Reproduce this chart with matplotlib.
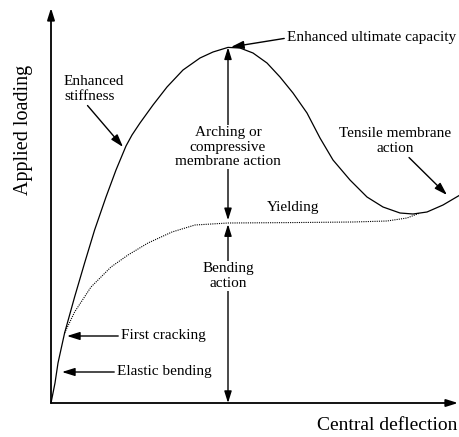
import matplotlib
matplotlib.use("Agg")
import matplotlib.pyplot as plt

plt.rcParams['font.family'] = ['Liberation Serif', 'DejaVu Serif']

# load-deflection curve with membrane action (schematic, arbitrary units)
defl_total = [0, 1.0, 1.75, 3.4, 5.9, 8.4, 10.9, 13.75, 16.25, 18.75, 20.25,
              22.25, 25.5, 29.0, 33.0, 37.25, 40.5, 44.25, 47.25, 50.5, 54.0,
              57.25, 60.5, 64.0, 67.25, 70.5, 74.75, 79.0, 83.0, 87.25, 90.5,
              94.0, 98.0, 102.25]
load_total = [0, 5.0, 10.0, 17.5, 26.5, 35.0, 43.25, 51.5, 58.25, 64.25, 67.0,
              70.0, 74.5, 79.0, 83.25, 86.25, 87.75, 88.9, 88.75, 87.5, 85.0,
              81.5, 77.5, 72.5, 66.25, 60.75, 55.75, 51.5, 49.0, 47.5, 47.25,
              47.75, 49.5, 52.0]

# bending-only curve (dotted)
defl_bend = [3.4, 5.9, 10.0, 15.0, 19.25, 24.25, 30.25, 36.0, 44.25,
             59.75, 75.5, 84.0, 89.0, 92.25]
load_bend = [17.5, 22.75, 29.0, 34.0, 37.0, 40.0, 42.75, 44.5, 45.0,
             45.1, 45.25, 45.5, 46.25, 47.5]

x_peak, y_peak = 44.25, 88.9
y_yield = 45.0

fig = plt.figure(figsize=(4.6, 4.37), dpi=100)
ax = fig.add_axes([0, 0, 1, 1])
ax.set_xlim(-12.75, 102.25)
ax.set_ylim(-8.5, 100.75)
ax.axis('off')

ax.plot(defl_total, load_total, color='black', lw=0.9)
ax.plot(defl_bend, load_bend, color='black', lw=0.8, linestyle=(0, (1, 1)))

head = dict(arrowstyle='-|>,head_width=0.22,head_length=0.7', color='black',
            lw=1.0, shrinkA=0, shrinkB=0)
two = dict(arrowstyle='<|-|>,head_width=0.22,head_length=0.7', color='black',
           lw=1.0, shrinkA=0, shrinkB=0)

# axes with arrows
ax.annotate('', xy=(101.75, 0), xytext=(0, 0), arrowprops=dict(head, lw=1.3))
ax.annotate('', xy=(0, 98.75), xytext=(0, 0), arrowprops=dict(head, lw=1.3))
ax.text(101.5, -5.5, 'Central deflection', ha='right', va='center', fontsize=14)
ax.text(-6.75, 68.25, 'Applied loading', ha='center', va='center',
        rotation=90, fontsize=14.5)

# vertical double arrows
ax.annotate('', xy=(x_peak, y_peak), xytext=(x_peak, y_yield + 0.7),
            arrowprops=two)
ax.annotate('', xy=(x_peak, y_yield - 0.3), xytext=(x_peak, 0),
            arrowprops=two)

box = dict(facecolor='white', edgecolor='none', pad=1)
ax.text(x_peak, 64, 'Arching or\ncompressive\nmembrane action', ha='center',
        va='center', fontsize=11, linespacing=1.15, bbox=box)
ax.text(x_peak, 31.75, 'Bending\naction', ha='center', va='center',
        fontsize=11, linespacing=1.15, bbox=box)

# labelled arrows
ax.annotate('Enhanced ultimate capacity', xy=(45.0, 89.0),
            xytext=(59, 91.25), ha='left', va='center', fontsize=11,
            arrowprops=dict(head, relpos=(0, 0.5)))
ax.annotate('Enhanced\nstiffness', xy=(18.0, 64.0), xytext=(3.25, 78.5),
            ha='left', va='center', fontsize=11, linespacing=1.15,
            arrowprops=dict(head, relpos=(0.35, 0)))
ax.annotate('Tensile membrane\naction', xy=(99, 52.0), xytext=(86, 65.5),
            ha='center', va='center', fontsize=11, linespacing=1.15,
            arrowprops=dict(head, relpos=(0.6, 0)))
ax.annotate('First cracking', xy=(4.0, 16.75), xytext=(17.5, 16.75),
            ha='left', va='center', fontsize=11,
            arrowprops=dict(head, relpos=(0, 0.5)))
ax.annotate('Elastic bending', xy=(2.75, 7.75), xytext=(16.5, 7.75),
            ha='left', va='center', fontsize=11,
            arrowprops=dict(head, relpos=(0, 0.5)))
ax.text(60.6, 49.0, 'Yielding', ha='center', va='center', fontsize=11)

fig.savefig('out.png', dpi=100)
